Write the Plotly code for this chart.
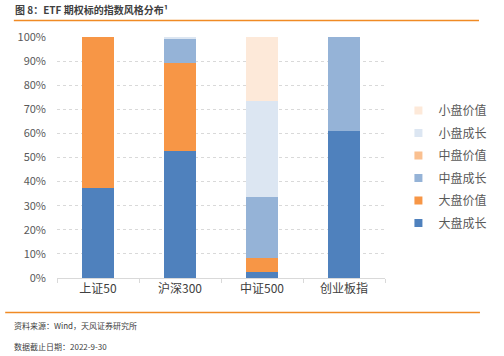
import plotly.graph_objects as go

categories = ["上证50", "沪深300", "中证500", "创业板指"]
series_names = ["大盘成长", "大盘价值", "中盘成长", "中盘价值", "小盘成长", "小盘价值"]
large_growth = [37.4, 52.6, 2.4, 60.9]
large_value = [62.6, 36.5, 5.8, 0.0]
mid_growth = [0.0, 9.9, 25.3, 39.1]
mid_value = [0.0, 0.0, 0.0, 0.0]
small_growth = [0.0, 1.0, 39.8, 0.0]
small_value = [0.0, 0.0, 26.7, 0.0]
y_ticks = [0, 10, 20, 30, 40, 50, 60, 70, 80, 90, 100]
y_tick_labels = [f"{v}%" for v in y_ticks]

values = [large_growth, large_value, mid_growth, mid_value, small_growth, small_value]
colors = ["#4F81BD", "#F79646", "#95B3D7", "#FAC090", "#DCE6F2", "#FDE9D9"]

W, H = 504, 356
ML, MR, MT, MB = 57, 504 - 399, 37, 356 - 278
PW, PH = W - ML - MR, H - MT - MB

def px_x(px):
    return (px - ML) / PW

def px_y(py):
    return (H - MB - py) / PH

font_cjk = "Noto Sans CJK SC, Microsoft YaHei, sans-serif"

fig = go.Figure()
n = len(series_names)
for i, (name, vals, col) in enumerate(zip(series_names, values, colors)):
    fig.add_trace(go.Bar(
        x=categories, y=vals, name=name, marker=dict(color=col, line=dict(width=0)),
        width=0.4, showlegend=False, legendgroup=name,
    ))
for i, (name, col) in enumerate(zip(series_names, colors)):
    fig.add_trace(go.Scatter(
        x=[None], y=[None], mode="markers", name=name, legendgroup=name,
        marker=dict(symbol="square", size=8, color=col, line=dict(width=0)),
        legendrank=n - i, showlegend=True,
    ))

fig.update_layout(
    width=W, height=H,
    margin=dict(l=ML, r=MR, t=MT, b=MB),
    barmode="stack",
    plot_bgcolor="white", paper_bgcolor="white",
    font=dict(family=font_cjk, color="#595959", size=11),
    showlegend=True,
    legend=dict(
        x=px_x(413), y=px_y(96), xanchor="left", yanchor="top",
        traceorder="grouped", tracegroupgap=3.5,
        font=dict(size=12, color="#595959"),
        itemwidth=30,
    ),
    xaxis=dict(
        showgrid=False, showline=True, linecolor="#D9D9D9", linewidth=1,
        ticks="outside", tickson="boundaries", ticklen=4, tickcolor="#D9D9D9",
        tickfont=dict(size=12, color="#404040"),
    ),
    yaxis=dict(
        range=[0, 100], tickvals=y_ticks, ticktext=y_tick_labels,
        showgrid=True, gridcolor="#D9D9D9", griddash="dot", gridwidth=1,
        zeroline=False, showline=False,
        tickfont=dict(size=11, color="#595959"),
        ticks="", ticklabelstandoff=10,
    ),
    bargap=0.6,
)

fig.add_shape(type="line", xref="paper", yref="paper",
              x0=px_x(12), x1=px_x(497), y0=px_y(20.5), y1=px_y(20.5),
              line=dict(color="#F08A24", width=1.5))
fig.add_shape(type="line", xref="paper", yref="paper",
              x0=px_x(3), x1=px_x(498), y0=px_y(312.5), y1=px_y(312.5),
              line=dict(color="#F08A24", width=1.5))

fig.add_annotation(xref="paper", yref="paper", x=px_x(11), y=px_y(9.5),
                   xanchor="left", yanchor="middle", showarrow=False,
                   text="<b>图 8：ETF 期权标的指数风格分布¹</b>",
                   font=dict(size=10, color="#404040", family=font_cjk))
fig.add_annotation(xref="paper", yref="paper", x=px_x(10), y=px_y(325),
                   xanchor="left", yanchor="middle", showarrow=False,
                   text="资料来源：Wind，天风证券研究所",
                   font=dict(size=8, color="#404040", family=font_cjk))
fig.add_annotation(xref="paper", yref="paper", x=px_x(10), y=px_y(346),
                   xanchor="left", yanchor="middle", showarrow=False,
                   text="数据截止日期：2022-9-30",
                   font=dict(size=8, color="#404040", family=font_cjk))

fig.write_html("out.html", config={"displayModeBar": False},
               post_script="document.body.style.margin='0';")
